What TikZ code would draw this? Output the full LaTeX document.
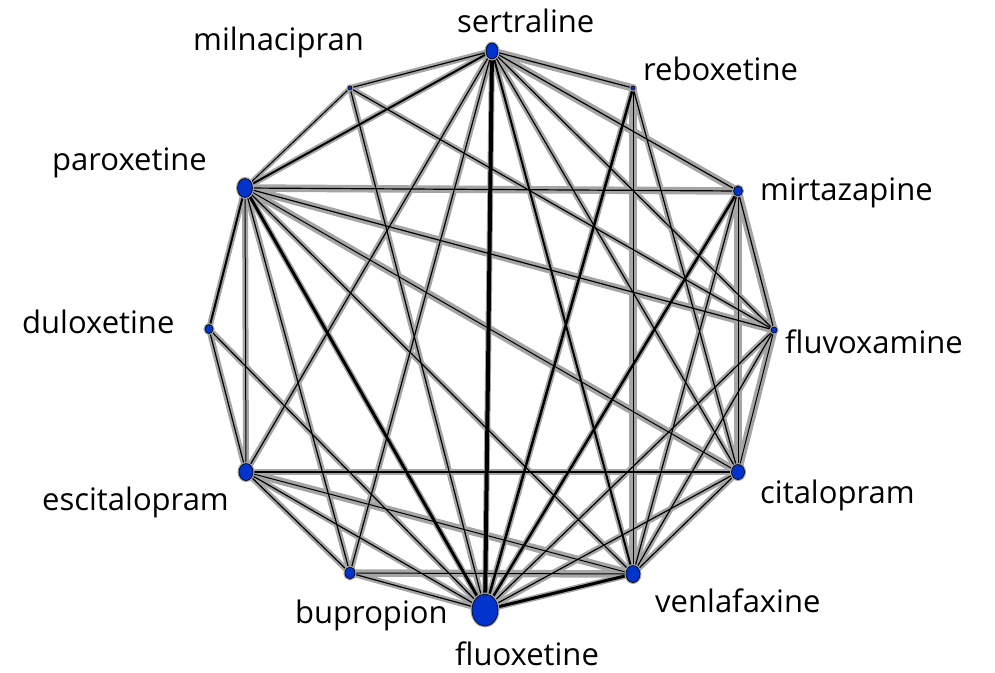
\documentclass[tikz,border=0pt]{standalone}
\usepackage{fontspec}
\setmainfont{Open Sans}
\usetikzlibrary{shapes.geometric}
\pgfdeclarelayer{halo}
\pgfdeclarelayer{lines}
\pgfsetlayers{halo,lines,main}
\definecolor{nodeblue}{RGB}{0,51,204}
\definecolor{halogray}{RGB}{165,165,165}
\newcommand\nmaedge[4]{%
  \begin{pgfonlayer}{halo}\draw[halogray, line width=#4pt, line cap=round] (#1.center) -- (#2.center);\end{pgfonlayer}%
  \begin{pgfonlayer}{lines}\draw[black, line width=#3pt] (#1.center) -- (#2.center);\end{pgfonlayer}}
\begin{document}
\begin{tikzpicture}[x=1pt,y=-1pt,
  drug/.style={ellipse, draw=black, line width=0.6pt, fill=nodeblue, inner sep=0pt,
    preaction={draw=halogray, line width=3pt}},
  lbl/.style={anchor=base west, inner sep=0pt, font=\fontsize{31}{36}\selectfont}]
\useasboundingbox (0,0) rectangle (995,672);
% nodes
\node[drug, minimum width=12pt, minimum height=16pt] (ser) at (492,51) {};
\node[drug, minimum width=4pt, minimum height=4pt] (mil) at (350,88) {};
\node[drug, minimum width=4pt, minimum height=4pt] (reb) at (633,88) {};
\node[drug, minimum width=9pt, minimum height=10pt] (mir) at (738,191) {};
\node[drug, minimum width=6pt, minimum height=6pt] (flv) at (774,330) {};
\node[drug, minimum width=13pt, minimum height=15pt] (cit) at (738,472) {};
\node[drug, minimum width=14pt, minimum height=17pt] (ven) at (633,574) {};
\node[drug, minimum width=26pt, minimum height=32pt] (flx) at (485,610) {};
\node[drug, minimum width=10pt, minimum height=12pt] (bup) at (350,573) {};
\node[drug, minimum width=14pt, minimum height=17pt] (esc) at (246,472) {};
\node[drug, minimum width=8pt, minimum height=9pt] (dul) at (209,329) {};
\node[drug, minimum width=15pt, minimum height=19pt] (par) at (245,188) {};
% labels
\node[lbl] (lser) at (457,32) {sertraline};
\node[lbl] (lmil) at (193,50) {milnacipran};
\node[lbl] (lreb) at (643,80) {reboxetine};
\node[lbl] (lmir) at (760,200) {mirtazapine};
\node[lbl] (lpar) at (52,170) {paroxetine};
\node[lbl] (ldul) at (22,333) {duloxetine};
\node[lbl] (lflv) at (785,353) {fluvoxamine};
\node[lbl] (lesc) at (42,510) {escitalopram};
\node[lbl] (lcit) at (760,503) {citalopram};
\node[lbl] (lven) at (655,612) {venlafaxine};
\node[lbl] (lbup) at (295,623) {bupropion};
\node[lbl] (lflx) at (455,665) {fluoxetine};
% edges
\nmaedge{ser}{mil}{1.2}{6}
\nmaedge{ser}{par}{2}{6}
\nmaedge{ser}{esc}{1.2}{6}
\nmaedge{ser}{bup}{1.2}{6}
\nmaedge{ser}{flx}{4}{6}
\nmaedge{ser}{ven}{2}{6}
\nmaedge{ser}{cit}{1.2}{6}
\nmaedge{ser}{flv}{1.2}{6}
\nmaedge{ser}{mir}{1.2}{7.5}
\nmaedge{ser}{reb}{1.2}{7.5}
\nmaedge{mil}{par}{1}{5}
\nmaedge{mil}{flx}{1.2}{6}
\nmaedge{mil}{flv}{1.2}{6}
\nmaedge{reb}{flx}{2.5}{6}
\nmaedge{reb}{ven}{1}{7.5}
\nmaedge{reb}{cit}{1.2}{6}
\nmaedge{par}{mir}{1.2}{7.5}
\nmaedge{par}{flv}{1.2}{7.5}
\nmaedge{par}{cit}{1}{7.5}
\nmaedge{par}{ven}{1.2}{6}
\nmaedge{par}{flx}{3}{6}
\nmaedge{par}{bup}{1.2}{6}
\nmaedge{par}{esc}{1}{6}
\nmaedge{par}{dul}{2}{6}
\nmaedge{dul}{esc}{1.2}{6}
\nmaedge{dul}{flx}{1.2}{6}
\nmaedge{esc}{cit}{2.5}{6}
\nmaedge{esc}{ven}{1}{7.5}
\nmaedge{esc}{flx}{1.2}{6}
\nmaedge{esc}{bup}{1.2}{6}
\nmaedge{bup}{flx}{1.2}{6}
\nmaedge{bup}{ven}{1}{7.5}
\nmaedge{flx}{ven}{3}{6}
\nmaedge{flx}{cit}{1.2}{6}
\nmaedge{flx}{flv}{1.2}{6}
\nmaedge{flx}{mir}{2.5}{6}
\nmaedge{ven}{cit}{1.2}{6}
\nmaedge{ven}{flv}{1.2}{6}
\nmaedge{ven}{mir}{1.2}{6}
\nmaedge{mir}{cit}{1}{7.5}
\nmaedge{mir}{flv}{1.2}{7.5}
\nmaedge{flv}{cit}{1}{7.5}
\end{tikzpicture}
\end{document}
